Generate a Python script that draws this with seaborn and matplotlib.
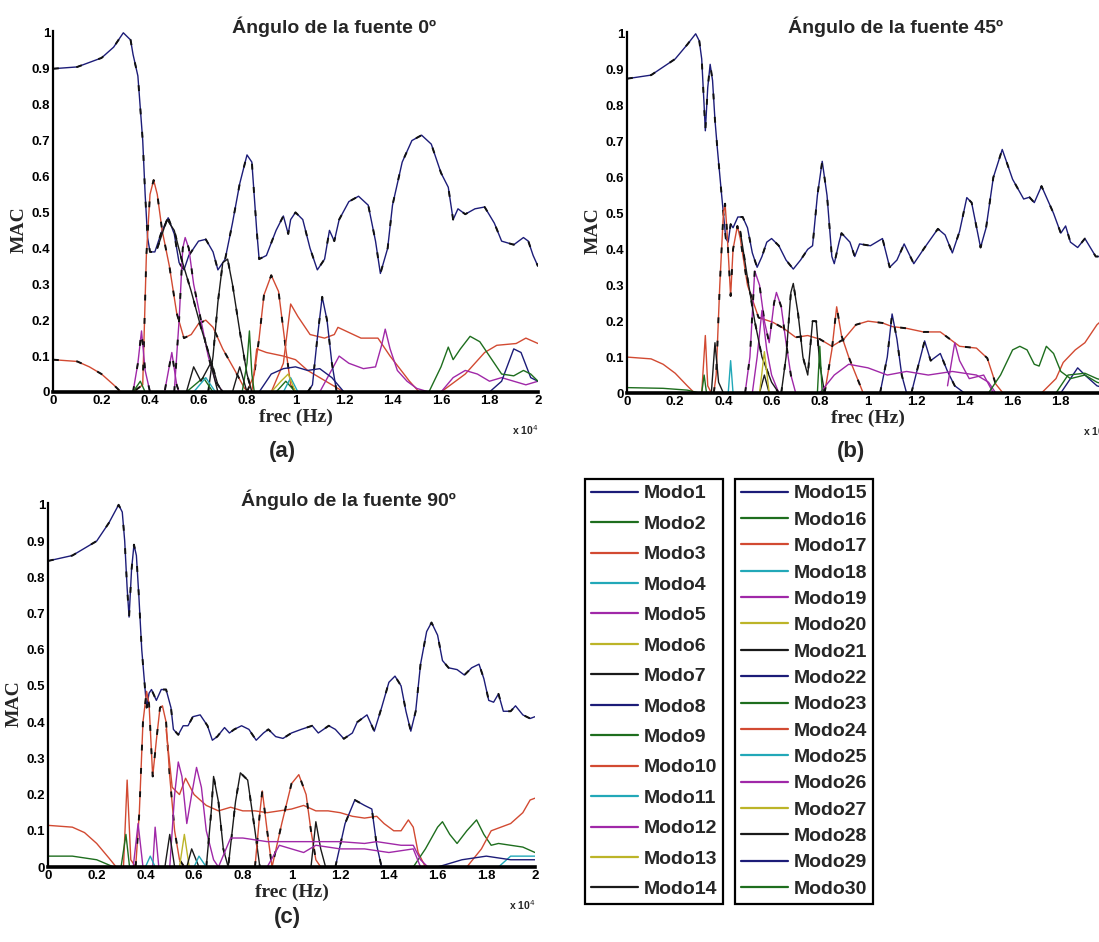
import matplotlib
matplotlib.use("Agg")
import matplotlib.pyplot as plt
import seaborn as sns
from matplotlib.lines import Line2D

sns.set_theme(style="white")
plt.rcParams["font.family"] = ["Liberation Sans", "DejaVu Sans"]

# Colour cycle of the 30 modes (MATLAB-like, 7 colours repeated)
MODE_COLORS = ["#1c1c78", "#1e6e1e", "#d24a32", "#22a8b8", "#a028a8", "#bcb428", "#1a1a1a"]
MODE_NAMES = ["Modo%d" % k for k in range(1, 31)]

X_TICKS = [0, 0.2, 0.4, 0.6, 0.8, 1, 1.2, 1.4, 1.6, 1.8, 2]
X_TICKLABELS = ["0", "0.2", "0.4", "0.6", "0.8", "1", "1.2", "1.4", "1.6", "1.8", "2"]
Y_TICKS = [0, 0.1, 0.2, 0.3, 0.4, 0.5, 0.6, 0.7, 0.8, 0.9, 1]
Y_TICKLABELS = ["0", "0.1", "0.2", "0.3", "0.4", "0.5", "0.6", "0.7", "0.8", "0.9", "1"]

TITLES = ["Ángulo de la fuente 0º", "Ángulo de la fuente 45º", "Ángulo de la fuente 90º"]
PANEL_TAGS = ["(a)", "(b)", "(c)"]

# ---------------- panel (a): source angle 0 deg  (frec in x10^4 Hz, MAC) ----------------
A_MODO1 = [(0, .90), (.1, .905), (.2, .93), (.25, .96), (.29, 1.0), (.32, .98), (.33, .94), (.35, .88),
           (.37, .70), (.38, .55), (.39, .43), (.40, .39), (.42, .39), (.45, .45), (.475, .485), (.50, .44),
           (.52, .36), (.54, .34), (.56, .38), (.60, .42), (.63, .425), (.66, .39), (.68, .34), (.71, .37),
           (.74, .47), (.77, .58), (.80, .66), (.82, .64), (.84, .45), (.85, .37), (.88, .38), (.92, .45),
           (.95, .49), (.97, .44), (.98, .48), (1.0, .50), (1.03, .48), (1.06, .40), (1.09, .34), (1.12, .37),
           (1.14, .45), (1.16, .42), (1.18, .48), (1.22, .53), (1.26, .545), (1.30, .52), (1.33, .42),
           (1.35, .33), (1.38, .40), (1.40, .52), (1.44, .64), (1.48, .70), (1.52, .715), (1.56, .69),
           (1.60, .61), (1.63, .57), (1.65, .48), (1.67, .51), (1.70, .495), (1.74, .51), (1.78, .515),
           (1.82, .47), (1.85, .42), (1.90, .41), (1.94, .43), (1.96, .42), (1.98, .38), (2.0, .35)]
A_MODO3 = [(0, .09), (.1, .085), (.15, .07), (.2, .05), (.25, .02), (.28, 0), (.33, 0), (.37, .02),
           (.385, .38), (.40, .55), (.415, .59), (.43, .55), (.45, .45), (.48, .35), (.51, .22), (.54, .15),
           (.57, .16), (.60, .19), (.63, .20), (.66, .18), (.70, .12), (.75, .06), (.79, .01), (.81, 0)]
A_MODO10 = [(.80, 0), (.83, .05), (.85, .15), (.87, .27), (.90, .325), (.93, .28), (.96, .12), (.98, .02), (1.0, 0)]
A_MODO17 = [(.90, 0), (.95, .08), (.98, .245), (1.01, .21), (1.06, .16), (1.12, .15), (1.16, .16), (1.175, .18),
            (1.27, .15), (1.34, .15), (1.39, .10), (1.47, .03), (1.51, 0)]
A_MODO24 = [(1.60, 0), (1.70, .05), (1.78, .11), (1.83, .13), (1.91, .135), (1.95, .15), (2.0, .135)]
A_MODO3B = [(.82, 0), (.84, .12), (.88, .11), (.95, .10), (1.0, .09), (1.05, .06), (1.1, .04), (1.15, .02), (1.2, 0)]
A_MODO5 = [(.33, 0), (.35, .08), (.365, .17), (.38, .06), (.40, 0), (.46, 0), (.49, .11), (.51, .02), (.52, 0)]
A_MODO12 = [(.50, 0), (.52, .20), (.535, .40), (.545, .43), (.56, .40), (.58, .30), (.61, .20), (.64, .10),
            (.67, .03), (.70, 0)]
A_MODO19 = [(1.10, 0), (1.14, .05), (1.18, .10), (1.22, .08), (1.28, .065), (1.33, .07), (1.355, .13),
            (1.37, .175), (1.39, .12), (1.42, .06), (1.46, .03), (1.50, .01), (1.55, 0)]
A_MODO26 = [(1.60, 0), (1.65, .04), (1.70, .06), (1.75, .05), (1.80, .03), (1.85, .04), (1.90, .03),
            (1.95, .02), (2.0, .03)]
A_MODO14 = [(.64, 0), (.66, .10), (.68, .25), (.70, .36), (.72, .37), (.74, .30), (.77, .17), (.80, .05), (.82, 0)]
A_MODO21 = [(.43, .40), (.47, .48), (.50, .45), (.53, .37), (.57, .28), (.61, .18), (.65, .09), (.68, .02), (.70, 0)]
A_MODO8 = [(1.05, 0), (1.07, .02), (1.09, .15), (1.11, .265), (1.13, .20), (1.15, .08), (1.17, 0)]
A_MODO22 = [(1.80, 0), (1.85, .03), (1.90, .12), (1.93, .11), (1.97, .04), (2.0, .03)]
A_MODO29 = [(.85, 0), (.90, .05), (.95, .065), (1.0, .07), (1.05, .06), (1.10, .065), (1.15, .04), (1.20, 0)]
A_MODO23 = [(1.55, 0), (1.60, .07), (1.63, .125), (1.65, .09), (1.68, .12), (1.72, .155), (1.76, .14),
            (1.80, .10), (1.85, .05), (1.90, .045), (1.94, .06), (1.97, .05), (2.0, .03)]
A_MODO9 = [(.78, 0), (.80, .08), (.81, .17), (.82, .05), (.83, 0)]
A_MODO2 = [(.33, 0), (.36, .03), (.38, 0), (.55, 0), (.62, .04), (.66, 0), (.92, 0), (.96, .03), (1.0, 0)]
A_MODO4 = [(.58, 0), (.63, .04), (.67, 0), (.95, 0), (.98, .04), (1.01, 0)]
A_MODO6 = [(.90, 0), (.94, .03), (.97, .05), (1.0, 0)]
A_MODO7 = [(.55, 0), (.58, .07), (.61, .03), (.65, .08), (.68, 0), (.74, 0), (.77, .07), (.80, 0)]

# ---------------- panel (b): source angle 45 deg ----------------
B_MODO1 = [(0, .875), (.1, .885), (.2, .93), (.25, .97), (.285, 1.0), (.30, .98), (.31, .93), (.32, .80),
           (.325, .73), (.335, .85), (.345, .915), (.355, .87), (.365, .76), (.375, .68), (.39, .57),
           (.40, .50), (.41, .43), (.42, .42), (.43, .47), (.44, .46), (.46, .49), (.48, .49), (.50, .46),
           (.52, .39), (.54, .35), (.56, .38), (.58, .42), (.60, .43), (.63, .41), (.66, .37), (.69, .345),
           (.72, .37), (.75, .40), (.77, .41), (.79, .55), (.81, .645), (.83, .55), (.85, .38), (.86, .36),
           (.88, .42), (.89, .445), (.925, .42), (.945, .38), (.965, .415), (1.01, .41), (1.06, .43),
           (1.09, .35), (1.12, .37), (1.15, .415), (1.19, .36), (1.23, .40), (1.29, .457), (1.32, .44),
           (1.35, .39), (1.38, .45), (1.41, .544), (1.43, .53), (1.467, .405), (1.49, .46), (1.52, .60),
           (1.557, .678), (1.60, .595), (1.646, .54), (1.67, .545), (1.69, .53), (1.72, .576), (1.77, .50),
           (1.80, .445), (1.82, .465), (1.84, .42), (1.87, .405), (1.90, .43), (1.945, .38), (1.97, .38),
           (2.0, .39)]
B_MODO3 = [(0, .10), (.1, .095), (.15, .08), (.2, .055), (.25, .02), (.28, 0), (.31, 0), (.325, .16),
           (.335, .02), (.35, 0)]
B_MODO10 = [(.36, 0), (.37, .05), (.385, .30), (.40, .50), (.407, .527), (.415, .45), (.43, .27), (.44, .40),
            (.458, .465), (.47, .43), (.50, .30), (.546, .21), (.605, .197), (.65, .18), (.70, .155),
            (.75, .16), (.80, .15), (.85, .13), (.90, .15), (.95, .19), (1.0, .20), (1.06, .195), (1.10, .185),
            (1.16, .18), (1.23, .17), (1.30, .17), (1.38, .13), (1.45, .125), (1.495, .097), (1.53, .025),
            (1.56, 0)]
B_MODO17 = [(.82, 0), (.85, .12), (.87, .24), (.89, .16), (.92, .10), (.95, .05), (.98, 0)]
B_MODO24 = [(1.72, 0), (1.78, .04), (1.81, .085), (1.86, .12), (1.90, .14), (1.95, .19), (2.0, .22)]
B_MODO2 = [(0, .015), (.15, .013), (.25, .008), (.30, 0), (.31, 0), (.32, .05), (.33, 0)]
B_MODO12 = [(.49, 0), (.51, .10), (.53, .34), (.55, .30), (.57, .20), (.59, .14), (.61, .25), (.62, .28),
            (.64, .24), (.66, .14), (.68, .05), (.70, 0)]
B_MODO5 = [(.52, 0), (.54, .10), (.56, .23), (.58, .12), (.60, .05), (.63, 0)]
B_MODO14 = [(.64, 0), (.66, .10), (.68, .28), (.69, .305), (.71, .22), (.73, .10), (.75, .05), (.77, .20),
            (.785, .20), (.80, .08), (.82, 0)]
B_MODO21 = [(.47, .45), (.50, .32), (.53, .20), (.56, .10), (.60, .03), (.63, 0)]
B_MODO7 = [(.35, 0), (.365, .14), (.38, .03), (.40, 0), (.55, 0), (.57, .05), (.59, 0)]
B_MODO8 = [(1.05, 0), (1.08, .10), (1.10, .22), (1.12, .15), (1.14, .05), (1.16, 0)]
B_MODO22 = [(1.18, 0), (1.21, .08), (1.235, .145), (1.26, .09), (1.30, .11), (1.33, .06), (1.36, .02), (1.40, 0)]
B_MODO29 = [(1.80, 0), (1.84, .04), (1.87, .07), (1.90, .05), (1.95, .02), (2.0, .01)]
B_MODO19 = [(1.33, .02), (1.36, .14), (1.38, .09), (1.42, .04), (1.48, .05), (1.52, 0)]
B_MODO26 = [(.80, 0), (.86, .05), (.92, .08), (1.0, .07), (1.08, .05), (1.16, .06), (1.25, .05),
            (1.35, .06), (1.45, .05), (1.50, .03), (1.53, 0)]
B_MODO4 = [(.42, 0), (.43, .09), (.44, 0)]
B_MODO6 = [(.55, 0), (.57, .115), (.59, 0)]
B_MODO9 = [(.79, 0), (.80, .13), (.81, 0)]
B_MODO23 = [(1.50, 0), (1.55, .05), (1.60, .12), (1.63, .13), (1.66, .12), (1.69, .08), (1.71, .075),
            (1.74, .13), (1.77, .11), (1.80, .06), (1.84, .04), (1.90, .05), (1.95, .03), (2.0, .02)]
B_MODO30 = [(1.78, 0), (1.83, .05), (1.90, .055), (1.95, .04), (2.0, .03)]

# ---------------- panel (c): source angle 90 deg ----------------
C_MODO1 = [(0, .845), (.1, .86), (.2, .90), (.25, .95), (.29, 1.0), (.305, .98), (.315, .90), (.325, .77),
           (.333, .69), (.343, .82), (.353, .89), (.363, .86), (.373, .75), (.385, .60), (.395, .52),
           (.405, .44), (.415, .48), (.425, .49), (.445, .46), (.465, .49), (.485, .49), (.505, .44),
           (.515, .38), (.535, .365), (.555, .39), (.575, .39), (.595, .415), (.625, .42), (.655, .39),
           (.675, .35), (.695, .36), (.725, .385), (.745, .37), (.765, .38), (.795, .39), (.825, .38),
           (.855, .35), (.885, .37), (.905, .38), (.935, .36), (.965, .355), (1.0, .37), (1.04, .38),
           (1.085, .39), (1.11, .37), (1.153, .39), (1.18, .38), (1.215, .354), (1.25, .37), (1.27, .40),
           (1.31, .42), (1.34, .375), (1.37, .44), (1.40, .51), (1.425, .527), (1.45, .50), (1.47, .43),
           (1.49, .375), (1.51, .43), (1.53, .56), (1.555, .65), (1.575, .675), (1.60, .64), (1.62, .57),
           (1.645, .55), (1.68, .545), (1.71, .53), (1.74, .55), (1.77, .56), (1.79, .52), (1.81, .46),
           (1.83, .455), (1.85, .478), (1.87, .43), (1.90, .43), (1.92, .445), (1.95, .42), (1.98, .41),
           (2.0, .415)]
C_MODO3 = [(0, .115), (.1, .11), (.15, .095), (.2, .065), (.25, .025), (.28, 0), (.31, 0), (.325, .24),
           (.34, .02), (.36, 0)]
C_MODO2 = [(0, .03), (.1, .03), (.2, .02), (.27, 0), (.30, 0), (.32, .09), (.335, 0)]
C_MODO10 = [(.36, 0), (.375, .15), (.39, .40), (.405, .485), (.415, .45), (.43, .25), (.445, .35), (.46, .44),
            (.47, .445), (.485, .40), (.50, .25), (.52, .10), (.54, .02), (.56, 0)]
C_MODO17 = [(.485, .38), (.51, .22), (.54, .20), (.565, .245), (.60, .20), (.65, .17), (.70, .155), (.75, .165),
            (.80, .155), (.85, .155), (.90, .15), (.95, .155), (1.0, .16), (1.05, .17), (1.10, .155),
            (1.15, .155), (1.20, .15), (1.25, .14), (1.30, .135), (1.35, .14), (1.38, .12), (1.42, .10),
            (1.45, .10), (1.48, .13), (1.50, .11), (1.52, .04), (1.55, 0)]
C_MODO12 = [(.50, 0), (.52, .20), (.535, .29), (.55, .25), (.57, .12), (.59, .20), (.61, .275), (.63, .22),
            (.65, .10), (.68, .02), (.70, 0)]
C_MODO14 = [(.65, 0), (.67, .15), (.68, .25), (.70, .18), (.72, .05), (.74, 0), (.77, .18), (.79, .26),
            (.82, .24), (.85, .10), (.87, 0)]
C_MODO24 = [(.85, 0), (.87, .15), (.88, .21), (.90, .10), (.92, 0), (.96, .12), (1.0, .23), (1.03, .255),
            (1.06, .20), (1.08, .10), (1.10, .02), (1.12, 0)]
C_MODO8 = [(1.18, 0), (1.22, .12), (1.26, .185), (1.30, .17), (1.33, .16), (1.35, .06), (1.37, 0)]
C_MODO21 = [(1.08, 0), (1.10, .125), (1.12, .05), (1.14, 0)]
C_MODO23 = [(1.50, 0), (1.55, .05), (1.60, .11), (1.62, .125), (1.65, .09), (1.68, .065), (1.72, .10),
            (1.76, .13), (1.79, .09), (1.82, .06), (1.85, .065), (1.90, .06), (1.95, .055), (2.0, .04)]
C_MODO3B = [(1.72, 0), (1.78, .05), (1.82, .10), (1.90, .12), (1.95, .15), (1.98, .185), (2.0, .19)]
C_MODO19 = [(.70, 0), (.75, .08), (.80, .08), (.90, .07), (1.0, .07), (1.10, .07), (1.20, .07), (1.30, .065),
            (1.35, .07), (1.45, .06), (1.50, .06), (1.53, .02), (1.56, 0)]
C_MODO5 = [(.35, 0), (.37, .12), (.39, 0), (.43, 0), (.44, .11), (.455, 0)]
C_MODO6 = [(.54, 0), (.56, .09), (.58, 0)]
C_MODO7 = [(.48, 0), (.50, .09), (.52, 0), (.57, 0), (.59, .05), (.62, 0)]
C_MODO4 = [(.40, 0), (.42, .03), (.44, 0), (.60, 0), (.62, .03), (.65, 0), (1.85, 0), (1.9, .03), (2.0, .03)]
C_MODO26 = [(.90, 0), (.95, .06), (1.0, .05), (1.05, .04), (1.1, .06), (1.2, .05), (1.3, .05), (1.4, .04),
            (1.5, .05), (1.53, 0)]
C_MODO29 = [(1.60, 0), (1.70, .02), (1.80, .03), (1.90, .02), (2.0, .02)]

# (points, mode number, dark dashes on top)
PANELS = [
    [(A_MODO1, 1, True), (A_MODO3, 3, True), (A_MODO10, 10, True), (A_MODO17, 17, False), (A_MODO24, 24, False),
     (A_MODO3B, 3, False), (A_MODO5, 5, True), (A_MODO12, 12, True), (A_MODO19, 19, False), (A_MODO26, 26, False),
     (A_MODO14, 14, True), (A_MODO21, 21, True), (A_MODO8, 8, True), (A_MODO22, 22, False), (A_MODO29, 29, False),
     (A_MODO23, 23, False), (A_MODO9, 9, False), (A_MODO2, 2, False), (A_MODO4, 4, False), (A_MODO6, 6, False),
     (A_MODO7, 7, False)],
    [(B_MODO1, 1, True), (B_MODO3, 3, False), (B_MODO10, 10, True), (B_MODO17, 17, True), (B_MODO24, 24, False),
     (B_MODO2, 2, False), (B_MODO12, 12, True), (B_MODO5, 5, False), (B_MODO14, 14, True), (B_MODO21, 21, True),
     (B_MODO7, 7, False), (B_MODO8, 8, True), (B_MODO22, 22, True), (B_MODO29, 29, False), (B_MODO19, 19, False),
     (B_MODO26, 26, False), (B_MODO4, 4, False), (B_MODO6, 6, False), (B_MODO9, 9, False), (B_MODO23, 23, False),
     (B_MODO30, 30, False)],
    [(C_MODO1, 1, True), (C_MODO3, 3, False), (C_MODO2, 2, False), (C_MODO10, 10, True), (C_MODO17, 17, False),
     (C_MODO12, 12, False), (C_MODO14, 14, True), (C_MODO24, 24, True), (C_MODO8, 8, True), (C_MODO21, 21, False),
     (C_MODO23, 23, False), (C_MODO3B, 3, False), (C_MODO19, 19, False), (C_MODO5, 5, False), (C_MODO6, 6, False),
     (C_MODO7, 7, False), (C_MODO4, 4, False), (C_MODO26, 26, False), (C_MODO29, 29, False)],
]


def mode_color(k):
    return MODE_COLORS[(k - 1) % 7]


fig = plt.figure(figsize=(10.99, 9.42), dpi=100)
W, H = 1099.0, 942.0

# axes boxes in pixels: x0, x1, ytop(=1), ybottom(=0)
boxes = [(53, 538, 31, 392), (627, 1109, 32, 393), (48, 535, 503, 867)]
title_pos = [(334, 27), (896, 27), (348, 500)]
tag_pos = [(282, 452), (851, 452), (287, 918)]

for i, (x0, x1, yt, yb) in enumerate(boxes):
    ax = fig.add_axes([x0 / W, 1 - yb / H, (x1 - x0) / W, (yb - yt) / H])
    for pts, k, dashed in PANELS[i]:
        xs = [p[0] for p in pts]
        ys = [p[1] for p in pts]
        sns.lineplot(x=xs, y=ys, ax=ax, color=mode_color(k), lw=1.0, sort=False, estimator=None)
        if dashed:
            sns.lineplot(x=xs, y=ys, ax=ax, color="#111111", lw=1.4, sort=False, estimator=None,
                         linestyle=(0, (3, 9)))
    ax.set_xlim(0, 2)
    ax.set_ylim(0, 1.005)
    ax.set_xticks(X_TICKS)
    ax.set_xticklabels(X_TICKLABELS)
    ax.set_yticks(Y_TICKS)
    ax.set_yticklabels(Y_TICKLABELS)
    ax.tick_params(direction="in", length=4, width=1, pad=2, labelsize=9.5, colors="black")
    for lab in ax.get_xticklabels() + ax.get_yticklabels():
        lab.set_fontweight("bold")
    for side in ["top", "right"]:
        ax.spines[side].set_visible(False)
    ax.spines["left"].set_linewidth(1.6)
    ax.spines["left"].set_color("black")
    ax.spines["bottom"].set_linewidth(2.6)
    ax.spines["bottom"].set_color("black")
    ax.set_xlabel("frec (Hz)", family=["Liberation Serif", "DejaVu Serif"], fontsize=14, fontweight="bold")
    ax.set_ylabel("MAC", family=["Liberation Serif", "DejaVu Serif"], fontsize=14, fontweight="bold")
    ax.xaxis.set_label_coords(0.5, -0.045)
    ax.yaxis.set_label_coords(-25.0 / (x1 - x0), 0.45)
    ax.text(1.0, -0.105, r"x 10$^4$", transform=ax.transAxes, ha="right", va="center",
            fontsize=7.5, fontweight="bold")
    ax.set_facecolor("white")

    tx, ty = title_pos[i]
    fig.text(tx / W, 1 - ty / H, TITLES[i], ha="center", va="center", fontsize=14, fontweight="bold")
    gx, gy = tag_pos[i]
    fig.text(gx / W, 1 - gy / H, PANEL_TAGS[i], ha="center", va="center", fontsize=16, fontweight="bold")

# two framed legends with the 30 modes
handles = [Line2D([0], [0], color=mode_color(k), lw=1.6) for k in range(1, 31)]
legend_parts = [(0, 14, 585, 479, 0.66), (14, 30, 735, 479, 0.45)]
for start, stop, lx, ly, spacing in legend_parts:
    leg = fig.legend(handles[start:stop], MODE_NAMES[start:stop],
                     loc="upper left", bbox_to_anchor=(lx / W, 1 - ly / H), borderaxespad=0,
                     frameon=True, fancybox=False, edgecolor="black", framealpha=1,
                     prop={"family": ["Liberation Sans", "DejaVu Sans"], "weight": "bold", "size": 14},
                     handlelength=2.4, handletextpad=0.3, labelspacing=spacing, borderpad=0.3)
    leg.get_frame().set_linewidth(1.6)

fig.savefig("out.png", dpi=100)
